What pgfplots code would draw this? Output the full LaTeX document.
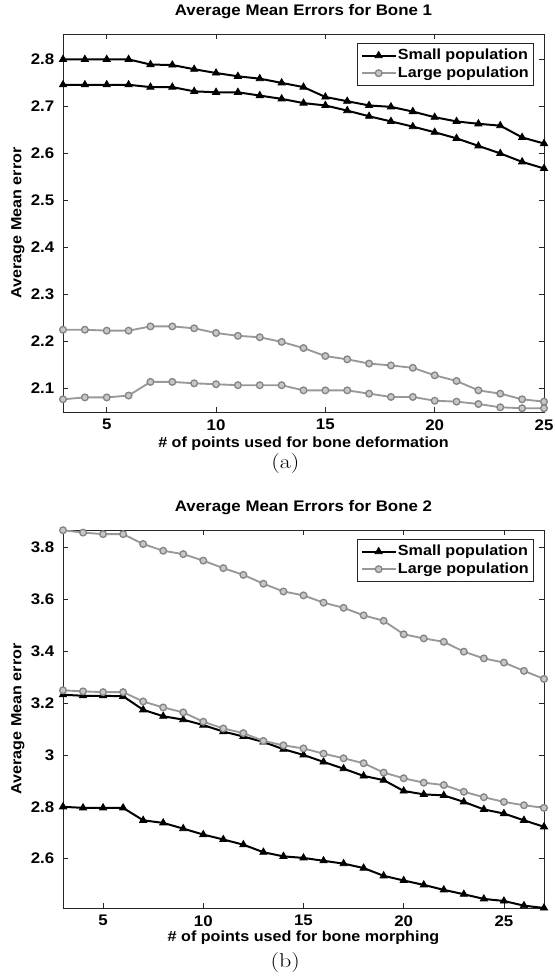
\documentclass[border=0pt]{standalone}
\usepackage{graphicx}
\usepackage{pgfplots}
\usepackage{pgfplotstable}
\pgfplotsset{compat=1.18}
\usepackage{fontspec}
\newfontfamily\arial[FakeStretch=1.1]{Liberation Sans}

\definecolor{lineGray}{gray}{0.6}
\definecolor{markGray}{gray}{0.52}
\definecolor{fillGray}{gray}{0.78}

% bone 1: x, small (two runs), large (two runs)
\pgfplotstableread{
x  sA     sB     lA     lB
3  2.800  2.746  2.225  2.077
4  2.800  2.746  2.225  2.081
5  2.800  2.746  2.223  2.081
6  2.800  2.746  2.223  2.085
7  2.789  2.741  2.232  2.114
8  2.788  2.741  2.232  2.114
9  2.779  2.732  2.228  2.111
10 2.771  2.730  2.218  2.109
11 2.764  2.730  2.212  2.107
12 2.759  2.723  2.209  2.107
13 2.750  2.716  2.199  2.107
14 2.741  2.707  2.186  2.096
15 2.720  2.702  2.169  2.096
16 2.711  2.691  2.162  2.096
17 2.702  2.679  2.153  2.089
18 2.699  2.668  2.149  2.082
19 2.689  2.657  2.144  2.082
20 2.677  2.645  2.128  2.074
21 2.668  2.632  2.116  2.072
22 2.663  2.616  2.096  2.067
23 2.659  2.600  2.089  2.060
24 2.634  2.582  2.077  2.058
25 2.621  2.568  2.072  2.058
}\boneone

% bone 2
\pgfplotstableread{
x  sA     sB     lA     lB
3  3.232  2.800  3.866  3.249
4  3.228  2.796  3.857  3.245
5  3.228  2.796  3.851  3.242
6  3.226  2.796  3.851  3.242
7  3.174  2.748  3.813  3.206
8  3.149  2.738  3.787  3.183
9  3.136  2.716  3.774  3.164
10 3.115  2.693  3.749  3.128
11 3.090  2.674  3.720  3.102
12 3.071  2.654  3.694  3.084
13 3.050  2.625  3.660  3.054
14 3.022  2.609  3.630  3.037
15 3.000  2.603  3.615  3.025
16 2.973  2.592  3.587  3.005
17 2.947  2.581  3.567  2.987
18 2.919  2.564  3.538  2.968
19 2.903  2.534  3.517  2.932
20 2.861  2.516  3.465  2.910
21 2.848  2.499  3.449  2.893
22 2.844  2.480  3.436  2.884
23 2.819  2.463  3.398  2.858
24 2.790  2.445  3.372  2.837
25 2.774  2.437  3.356  2.819
26 2.748  2.419  3.324  2.806
27 2.723  2.410  3.293  2.796
}\bonetwo

\pgfplotsset{
  bone/.style={
    scale only axis, width=360.75pt, height=283.5pt,
    anchor=south west, clip=false,
    axis line style={black!85, line width=0.7pt},
    tick align=inside, major tick length=4pt,
    tick style={black!85, line width=0.6pt},
    ticklabel style={font=\arial\bfseries\fontsize{11.5}{13}\selectfont},
    xticklabel style={yshift=-2pt},
    yticklabel style={xshift=-3pt},
    /pgf/number format/assume math mode=true,
    title style={font=\arial\bfseries\fontsize{11.5}{13}\selectfont, anchor=base, yshift=7.5pt},
    label style={font=\arial\bfseries\fontsize{11}{13}\selectfont},
    ylabel style={at={(axis description cs:-0.0936,0.5)}, anchor=center},
    xtick={5,10,15,20,25},
    legend style={at={(0.979,0.976)}, anchor=north east, draw=black!85, line width=0.6pt,
      font=\arial\bfseries\fontsize{11}{13}\selectfont,
      inner xsep=2.5pt, inner ysep=2.5pt, row sep=0pt,
      nodes={inner sep=1pt, text height=8.6pt, text depth=2.6pt},
      cells={anchor=west}},
    legend image code/.code={%
      \draw[mark repeat=2, mark phase=2] plot coordinates {(0pt,0pt) (12.75pt,0pt) (25.5pt,0pt)};},
  },
  small/.style={black, line width=1.5pt, mark=triangle*, mark size=3.1pt,
    mark options={solid, fill=black, line width=0.6pt}},
  large/.style={lineGray, line width=1.4pt, mark=*, mark size=2.5pt,
    mark options={solid, draw=markGray, fill=fillGray, line width=1pt}},
}

\begin{document}
\begin{tikzpicture}
\useasboundingbox (0pt,0pt) rectangle (415.5pt,734.25pt);

\begin{axis}[bone, at={(47.25pt,425.25pt)},
    title={Average Mean Errors for Bone 1},
    xlabel={\# of points used for bone deformation},
    xlabel style={at={(axis description cs:0.5,0)}, anchor=base, yshift=-26.5pt},
    ylabel={Average Mean error},
    xmin=3, xmax=25, ymin=2.05, ymax=2.854,
    ytick={2.1,2.2,2.3,2.4,2.5,2.6,2.7,2.8}]
  \addplot[small] table[x=x, y=sA] {\boneone};
  \addlegendentry{Small population}
  \addplot[large] table[x=x, y=lA] {\boneone};
  \addlegendentry{Large population}
  \addplot[small, forget plot] table[x=x, y=sB] {\boneone};
  \addplot[large, forget plot] table[x=x, y=lB] {\boneone};
\end{axis}
\node[font=\fontsize{15}{17}\selectfont] at (214pt,386.5pt) {\scalebox{1.2}[1]{(a)}};

\begin{axis}[bone, at={(47.25pt,53.25pt)},
    title={Average Mean Errors for Bone 2},
    xlabel={\# of points used for bone morphing},
    xlabel style={at={(axis description cs:0.5,0)}, anchor=base, yshift=-25pt},
    ylabel={Average Mean error},
    xmin=3, xmax=27, ymin=2.41, ymax=3.867,
    ytick={2.6,2.8,3,3.2,3.4,3.6,3.8}]
  \addplot[small] table[x=x, y=sA] {\bonetwo};
  \addlegendentry{Small population}
  \addplot[large] table[x=x, y=lA] {\bonetwo};
  \addlegendentry{Large population}
  \addplot[small, forget plot] table[x=x, y=sB] {\bonetwo};
  \addplot[large, forget plot] table[x=x, y=lB] {\bonetwo};
\end{axis}
\node[font=\fontsize{15}{17}\selectfont] at (214pt,12pt) {\scalebox{1.2}[1]{(b)}};
\end{tikzpicture}
\end{document}
